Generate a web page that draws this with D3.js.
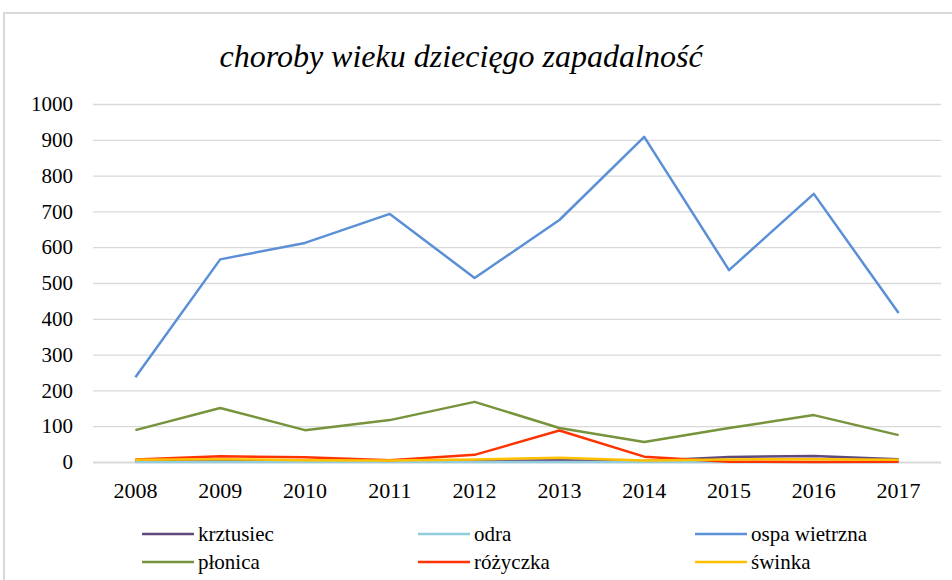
<!DOCTYPE html>
<html>
<head>
<meta charset="utf-8">
<script src="https://cdn.jsdelivr.net/npm/d3@7"></script>
<style>
  body { margin: 0; background: #fff; }
  svg { display: block; }
</style>
</head>
<body>
<svg width="952" height="580"></svg>
<script>
// Data
const years = ["2008", "2009", "2010", "2011", "2012", "2013", "2014", "2015", "2016", "2017"];
const yTicks = [0, 100, 200, 300, 400, 500, 600, 700, 800, 900, 1000];

const krztusiec    = [2, 3, 2, 2, 3, 5, 3, 14, 17, 8];
const odra         = [0, 0, 0, 0, 0, 0, 0, 0, 0, 0];
const ospaWietrzna = [237, 566, 612, 693, 514, 676, 908, 536, 749, 416];
const plonica      = [89, 151, 89, 117, 168, 95, 56, 95, 131, 75];
const rozyczka     = [7, 16, 13, 5, 20, 88, 15, 1, 0, 1];
const swinka       = [6, 8, 5, 4, 7, 12, 4, 7, 8, 6];

const seriesNames  = ["krztusiec", "odra", "ospa wietrzna", "płonica", "różyczka", "świnka"];
const seriesValues = [krztusiec, odra, ospaWietrzna, plonica, rozyczka, swinka];
const seriesColors = ["#604a7b", "#93cddd", "#5b8fd6", "#77933c", "#ff3300", "#ffc000"];

const SERIF = "Liberation Serif";

var svg = d3.select("svg");

// chart frame
svg.append("rect")
  .attr("x", 4)
  .attr("y", 13)
  .attr("width", 960)
  .attr("height", 600)
  .attr("fill", "none")
  .attr("stroke", "#d9d9d9")
  .attr("stroke-width", 2);

var pArea = [93, 104, 941, 462];

var xScale = d3.scaleBand()
  .domain(years)
  .range([pArea[0], pArea[2]]);

var yScale = d3.scaleLinear()
  .domain([0, 1000])
  .range([pArea[3], pArea[1]]);

var g = svg.append("g");

// title
g.append("text")
  .attr("x", 461)
  .attr("y", 67)
  .attr("text-anchor", "middle")
  .attr("font-size", 32)
  .attr("fill", "#000")
  .style("font-family", SERIF)
  .style("font-style", "italic")
  .text("choroby wieku dziecięgo zapadalność");

// grid + y labels
var yAxis = g.append("g")
  .attr("transform", `translate(${pArea[0]}, 0)`)
  .call(d3.axisLeft(yScale).tickValues(yTicks).tickFormat(d3.format("d"))
    .tickSize(-(pArea[2] - pArea[0])).tickPadding(20));
yAxis.attr("font-size", 21);
yAxis.select(".domain").remove();
yAxis.selectAll(".tick line").attr("stroke", "#d9d9d9").attr("stroke-width", 1.3);
yAxis.selectAll(".tick text").attr("fill", "#000").style("font-family", SERIF);
yAxis.selectAll(".tick").filter(d => d === 0).select("line").attr("stroke-width", 2);

// x labels
var xAxis = g.append("g")
  .attr("transform", `translate(0, ${pArea[3]})`)
  .call(d3.axisBottom(xScale).tickSize(0).tickPadding(20));
xAxis.attr("font-size", 22);
xAxis.select(".domain").remove();
xAxis.selectAll(".tick text").attr("fill", "#000").style("font-family", SERIF);

// lines
var line = d3.line()
  .x((d, i) => xScale(years[i]) + xScale.bandwidth() / 2)
  .y(d => yScale(d));

seriesValues.forEach((vals, k) => {
  g.append("path")
    .datum(vals)
    .attr("fill", "none")
    .attr("stroke", seriesColors[k])
    .attr("stroke-width", 2.5)
    .attr("stroke-linejoin", "round")
    .attr("d", line);
});

// legend
var colX = [142, 418, 695];
var rowY = [534, 562];
seriesNames.forEach((name, k) => {
  var lx = colX[k % 3], ly = rowY[Math.floor(k / 3)];
  g.append("line")
    .attr("x1", lx).attr("x2", lx + 52)
    .attr("y1", ly).attr("y2", ly)
    .attr("stroke", seriesColors[k])
    .attr("stroke-width", 2.5);
  g.append("text")
    .attr("x", lx + 56)
    .attr("y", ly)
    .attr("dy", "0.32em")
    .attr("font-size", 21)
    .attr("fill", "#000")
    .style("font-family", SERIF)
    .text(name);
});
</script>
</body>
</html>
